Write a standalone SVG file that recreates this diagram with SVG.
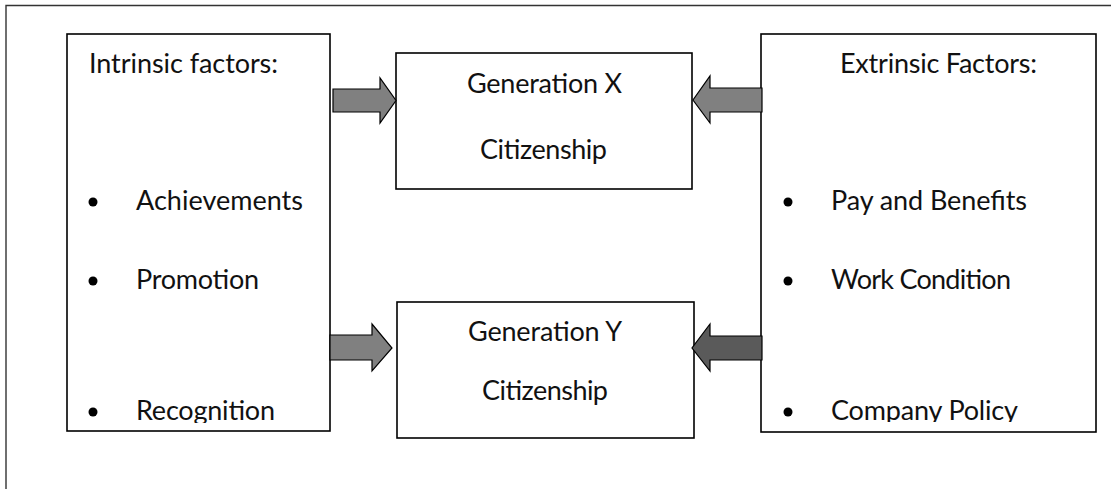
<svg xmlns="http://www.w3.org/2000/svg" width="1115" height="489" viewBox="0 0 1115 489">
<style>
  .box { fill: #ffffff; stroke: #000000; stroke-width: 1.6; }
  .t { font-family: Lato, "Open Sans", "Liberation Sans", sans-serif; font-size: 27px; fill: #111111; }
  .c { text-anchor: middle; }
  .bullet { fill: #000000; }
  .arr { stroke: #000000; stroke-width: 1.2; stroke-linejoin: miter; }
  .g1 { fill: #808080; }
  .g2 { fill: #5a5a5a; }
</style>
<defs>
  <clipPath id="clipL"><rect x="68" y="35" width="261" height="388"/></clipPath>
  <clipPath id="clipR"><rect x="762" y="35" width="333" height="387"/></clipPath>
</defs>
<rect width="1115" height="489" fill="#ffffff"/>
<path d="M6,489 L6,5.5 L1111,5.5" fill="none" stroke="#333333" stroke-width="1.4"/>

<g id="intrinsic">
  <rect class="box" x="67" y="34" width="263" height="397"/>
  <g clip-path="url(#clipL)">
    <text class="t" x="89" y="73" textLength="189">Intrinsic factors:</text>
    <circle class="bullet" cx="93" cy="202" r="4.5"/>
    <text class="t" x="136" y="210" textLength="167">Achievements</text>
    <circle class="bullet" cx="93" cy="281" r="4.5"/>
    <text class="t" x="136" y="289" textLength="123">Promotion</text>
    <circle class="bullet" cx="93" cy="412" r="4.5"/>
    <text class="t" x="136" y="420" textLength="139">Recognition</text>
  </g>
</g>

<g id="extrinsic">
  <rect class="box" x="761" y="34" width="335" height="398"/>
  <g clip-path="url(#clipR)">
    <text class="t" x="840" y="73" textLength="197">Extrinsic Factors:</text>
    <circle class="bullet" cx="788" cy="202" r="4.5"/>
    <text class="t" x="831" y="210" textLength="196">Pay and Benefits</text>
    <circle class="bullet" cx="788" cy="281" r="4.5"/>
    <text class="t" x="831" y="289" textLength="180">Work Condition</text>
    <circle class="bullet" cx="788" cy="412" r="4.5"/>
    <text class="t" x="831" y="420" textLength="187">Company Policy</text>
  </g>
</g>

<g id="genx">
  <rect class="box" x="396" y="53" width="296" height="136"/>
  <text class="t c" x="544.5" y="93" textLength="155">Generation X</text>
  <text class="t c" x="543.5" y="159" textLength="127">Citizenship</text>
</g>

<g id="geny">
  <rect class="box" x="397" y="302" width="297" height="136"/>
  <text class="t c" x="545" y="341" textLength="154">Generation Y</text>
  <text class="t c" x="545" y="400" textLength="126">Citizenship</text>
</g>

<g id="connectors">
  <polygon class="arr g1" points="333,89 380,89 380,78 396,100.5 380,123 380,112 333,112"/>
  <polygon class="arr g1" points="762,88 710,88 710,76 693,100 710,123 710,112 762,112"/>
  <polygon class="arr g1" points="330,335 372,335 372,324 392,348 372,371 372,360 330,360"/>
  <polygon class="arr g2" points="762,336 710,336 710,324 692,348 710,371 710,360 762,360"/>
</g>
</svg>
